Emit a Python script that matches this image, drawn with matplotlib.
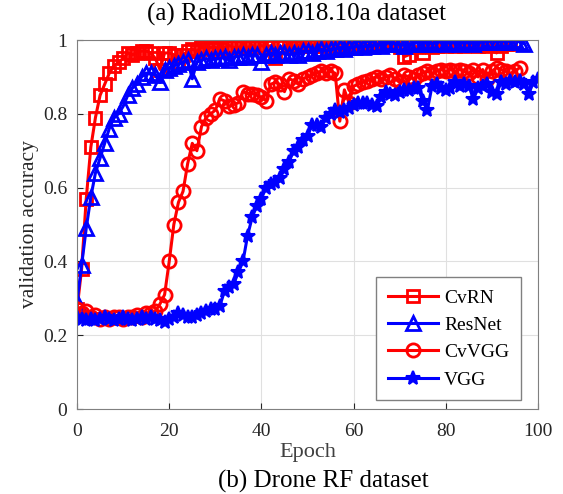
import numpy as np
import matplotlib
matplotlib.use("Agg")
import matplotlib.pyplot as plt

# validation accuracy per epoch
cvrn = [0.27, 0.38, 0.57, 0.71, 0.79, 0.85, 0.88, 0.91, 0.93, 0.94,
        0.95, 0.965, 0.96, 0.965, 0.97, 0.97, 0.965, 0.95, 0.92, 0.965,
        0.965, 0.96, 0.94, 0.96, 0.97, 0.975, 0.97, 0.98, 0.975, 0.98,
        0.98, 0.975, 0.98, 0.985, 0.98, 0.98, 0.985, 0.98, 0.985, 0.98,
        0.985, 0.98, 0.985, 0.95, 0.98, 0.985, 0.985, 0.98, 0.985, 0.99,
        0.985, 0.985, 0.99, 0.985, 0.99, 0.99, 0.985, 0.99, 0.99, 0.985,
        0.99, 0.99, 0.99, 0.985, 0.99, 0.99, 0.99, 0.995, 0.99, 0.99,
        0.98, 0.955, 0.96, 0.985, 0.98, 0.965, 0.985, 0.98, 0.985, 0.99,
        0.985, 0.99, 0.985, 0.99, 0.985, 0.99, 0.99, 0.985, 0.99, 0.985,
        0.99, 0.965, 0.985, 0.99, 0.99]

resnet = [0.29, 0.39, 0.49, 0.575, 0.64, 0.68, 0.72, 0.76, 0.79, 0.80,
          0.82, 0.85, 0.87, 0.88, 0.90, 0.91, 0.91, 0.905, 0.885, 0.92,
          0.925, 0.93, 0.935, 0.94, 0.945, 0.895, 0.94, 0.945, 0.95, 0.945,
          0.95, 0.95, 0.955, 0.945, 0.955, 0.955, 0.96, 0.955, 0.96, 0.96,
          0.94, 0.96, 0.965, 0.96, 0.965, 0.965, 0.96, 0.965, 0.96, 0.97,
          0.97, 0.965, 0.97, 0.975, 0.97, 0.975, 0.975, 0.98, 0.975, 0.98,
          0.98, 0.985, 0.98, 0.985, 0.985, 0.99, 0.985, 0.99, 0.995, 0.99,
          0.99, 0.985, 0.99, 0.99, 0.995, 0.99, 0.995, 0.99, 0.995, 0.995,
          0.99, 0.995, 0.995, 0.99, 0.995, 0.995, 0.99, 0.995, 0.995, 0.995,
          1.0, 0.995, 0.995, 1.0, 0.995, 1.0, 0.995, 0.99]

cvvgg = [0.27, 0.26, 0.265, 0.25, 0.255, 0.245, 0.25, 0.245, 0.25, 0.25,
         0.245, 0.25, 0.25, 0.255, 0.25, 0.26, 0.26, 0.265, 0.285, 0.31,
         0.40, 0.50, 0.56, 0.59, 0.665, 0.72, 0.70, 0.765, 0.79, 0.80,
         0.81, 0.84, 0.835, 0.82, 0.825, 0.83, 0.86, 0.855, 0.855, 0.85,
         0.845, 0.835, 0.88, 0.885, 0.88, 0.86, 0.895, 0.89, 0.88, 0.895,
         0.90, 0.905, 0.91, 0.915, 0.91, 0.915, 0.91, 0.78, 0.865, 0.83,
         0.875, 0.88, 0.885, 0.89, 0.895, 0.90, 0.895, 0.90, 0.905, 0.895,
         0.885, 0.905, 0.90, 0.895, 0.905, 0.91, 0.915, 0.91, 0.915, 0.92,
         0.915, 0.92, 0.915, 0.92, 0.915, 0.91, 0.92, 0.90, 0.92, 0.895,
         0.915, 0.925, 0.92, 0.915, 0.91, 0.915, 0.925]

vgg = [0.25, 0.245, 0.24, 0.245, 0.24, 0.245, 0.25, 0.245, 0.24, 0.245,
       0.25, 0.245, 0.24, 0.245, 0.25, 0.245, 0.25, 0.245, 0.24, 0.235,
       0.245, 0.25, 0.26, 0.255, 0.25, 0.25, 0.255, 0.26, 0.265, 0.27,
       0.27, 0.28, 0.32, 0.33, 0.34, 0.37, 0.40, 0.47, 0.52, 0.55,
       0.57, 0.60, 0.61, 0.615, 0.625, 0.65, 0.67, 0.70, 0.71, 0.73,
       0.74, 0.77, 0.77, 0.765, 0.79, 0.80, 0.81, 0.805, 0.81, 0.815,
       0.825, 0.83, 0.83, 0.83, 0.825, 0.82, 0.845, 0.86, 0.855, 0.85,
       0.86, 0.865, 0.865, 0.87, 0.87, 0.835, 0.81, 0.875, 0.88, 0.87,
       0.865, 0.87, 0.885, 0.875, 0.88, 0.875, 0.84, 0.87, 0.875, 0.88,
       0.86, 0.855, 0.885, 0.88, 0.89, 0.885, 0.89, 0.88, 0.855, 0.885,
       0.895]

plt.rcParams['font.family'] = ['Liberation Serif', 'DejaVu Serif']

fig = plt.figure(figsize=(5.63, 4.94), dpi=100)
ax = fig.add_axes([0.1368, 0.172, 0.8188, 0.747])

ax.plot(np.arange(len(cvrn)), cvrn, color='#ff0000', lw=2.2, marker='s',
        ms=8.5, mfc='none', mew=2, label='CvRN')
ax.plot(np.arange(len(resnet)), resnet, color='#0000ff', lw=2.2, marker='^',
        ms=10, mfc='none', mew=2, label='ResNet')
ax.plot(np.arange(len(cvvgg)), cvvgg, color='#ff0000', lw=2.2, marker='o',
        ms=9.5, mfc='none', mew=2, label='CvVGG')
ax.plot(np.arange(len(vgg)), vgg, color='#0000ff', lw=2.2, marker='*',
        ms=10, mew=1.5, label='VGG')

ax.set_xlim(0, 100)
ax.set_ylim(0, 1)
ax.set_xticks([0, 20, 40, 60, 80, 100])
ax.set_yticks([0, 0.2, 0.4, 0.6, 0.8, 1])
ax.set_yticklabels(['0', '0.2', '0.4', '0.6', '0.8', '1'])
ax.tick_params(direction='in', labelsize=14, colors='#262626', length=4)
ax.tick_params(axis='x', pad=10)
ax.tick_params(axis='y', pad=7)
ax.grid(True, color='#e0e0e0', lw=0.8)
ax.set_axisbelow(True)
for s in ax.spines.values():
    s.set_color('#808080')

ax.set_xlabel('Epoch', fontsize=16, color='#404040', labelpad=2)
ax.set_ylabel('validation accuracy', fontsize=15.5, color='#262626', labelpad=3)
fig.text(0.526, 0.97, '(a) RadioML2018.10a dataset', fontsize=18,
         ha='center', va='center')
fig.text(0.574, 0.026, '(b) Drone RF dataset', fontsize=18,
         ha='center', va='center')

leg = ax.legend(loc='lower right', bbox_to_anchor=(0.963, 0.024), fontsize=14,
                handlelength=2.6, handletextpad=0.3, fancybox=False,
                edgecolor='#808080', framealpha=1, labelspacing=0.5,
                borderpad=0.6, borderaxespad=0)
leg.get_frame().set_linewidth(1.0)

fig.savefig('out.png', dpi=100)
